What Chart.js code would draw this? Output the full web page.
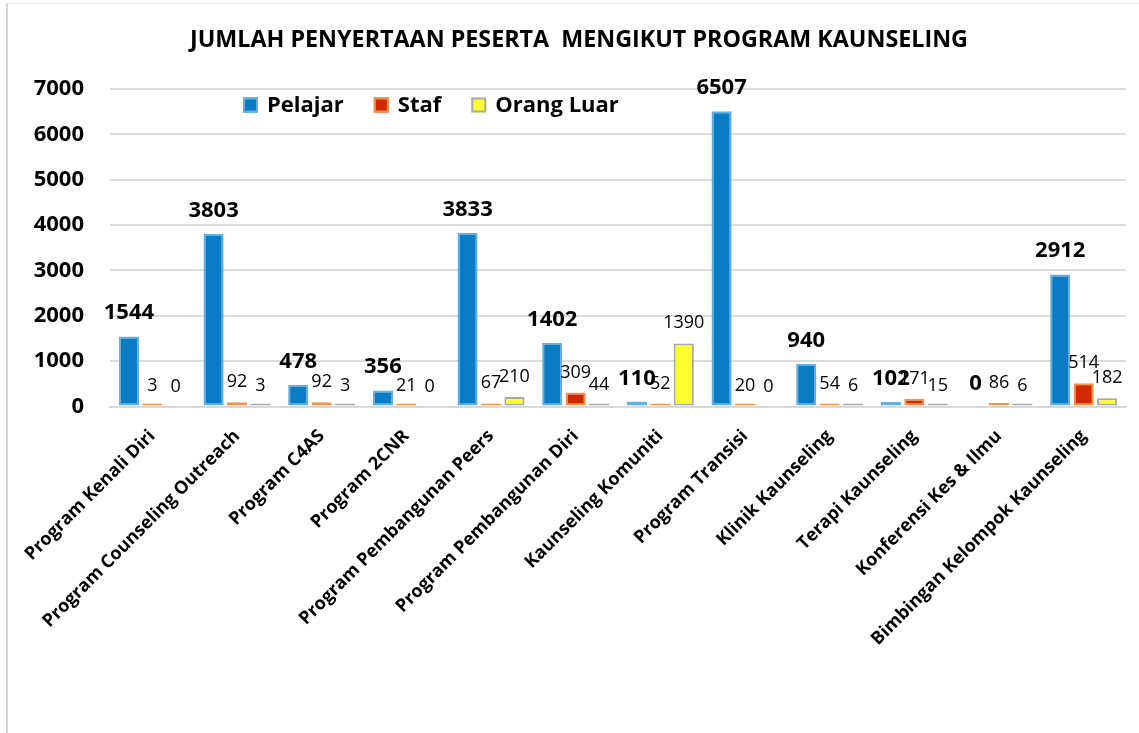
<!DOCTYPE html>
<html>
<head>
<meta charset="utf-8">
<script src="https://cdn.jsdelivr.net/npm/chart.js@4.4.1/dist/chart.umd.min.js"></script>
<style>
  html, body { margin: 0; padding: 0; background: #ffffff; }
  #wrap { position: relative; width: 1139px; height: 733px; }
  #frameL { position: absolute; left: 6px; top: 3px; width: 2px; height: 730px; background: #d4d4d4; }
  #frameT { position: absolute; left: 6px; top: 3px; width: 1133px; height: 1px; background: #e6e6e6; }
  canvas { position: absolute; left: 0; top: 0; }
</style>
</head>
<body>
<div id="wrap">
  <canvas id="c" width="1139" height="733"></canvas>
  <div id="frameL"></div>
  <div id="frameT"></div>
</div>
<script>
const categories = [
  "Program Kenali Diri",
  "Program Counseling Outreach",
  "Program C4AS",
  "Program 2CNR",
  "Program Pembangunan Peers",
  "Program Pembangunan Diri",
  "Kaunseling Komuniti",
  "Program Transisi",
  "Klinik Kaunseling",
  "Terapi Kaunseling",
  "Konferensi Kes & Ilmu",
  "Bimbingan Kelompok Kaunseling"
];
const pelajar    = [1544, 3803, 478, 356, 3833, 1402, 110, 6507, 940, 102, 0, 2912];
const staf       = [3, 92, 92, 21, 67, 309, 52, 20, 54, 171, 86, 514];
const orangLuar  = [0, 3, 3, 0, 210, 44, 1390, 0, 6, 15, 6, 182];
const seriesNames = ["Pelajar", "Staf", "Orang Luar"];
const yTicks = [0, 1000, 2000, 3000, 4000, 5000, 6000, 7000];
const chartTitle = "JUMLAH PENYERTAAN PESERTA  MENGIKUT PROGRAM KAUNSELING";

const FONT = "'Open Sans', 'DejaVu Sans', sans-serif";
const fills   = ['#0a7cc4', '#d22800', '#ffff30'];
const borders = ['#66aee2', '#f2944a', '#a9a9a9'];

function mk(i, data) {
  return {
    label: seriesNames[i],
    data: data,
    backgroundColor: ctx => (ctx.raw === 0 ? 'rgba(0,0,0,0)' : fills[i]),
    borderColor: ctx => (ctx.raw === 0 ? 'rgba(0,0,0,0)' : borders[i]),
    borderWidth: 2,
    borderSkipped: false,
    minBarLength: 3,
    categoryPercentage: 0.83,
    barPercentage: 0.86
  };
}

const labelPlugin = {
  id: 'valueLabels',
  afterDatasetsDraw(chart) {
    const ctx = chart.ctx;
    const ys = chart.scales.y;
    ctx.save();
    ctx.fillStyle = '#000';
    ctx.textAlign = 'center';
    ctx.textBaseline = 'alphabetic';
    chart.data.datasets.forEach((ds, di) => {
      const meta = chart.getDatasetMeta(di);
      meta.data.forEach((bar, i) => {
        const v = ds.data[i];
        const top = ys.getPixelForValue(v);
        if (di === 0) {
          ctx.font = 'bold 22px ' + FONT;
          ctx.fillText(String(v), bar.x, top - 17);
        } else {
          ctx.font = '18px ' + FONT;
          ctx.fillText(String(v), bar.x, top - 15);
        }
      });
    });
    ctx.restore();
  }
};

const legendPlugin = {
  id: 'innerLegend',
  afterDraw(chart) {
    const ctx = chart.ctx;
    const a = chart.chartArea;
    let x = a.left + 133;
    const yc = 105;
    ctx.save();
    ctx.font = 'bold 22px ' + FONT;
    ctx.textBaseline = 'middle';
    ctx.textAlign = 'left';
    seriesNames.forEach((name, i) => {
      ctx.fillStyle = fills[i];
      ctx.fillRect(x, yc - 7.5, 15, 15);
      ctx.strokeStyle = borders[i];
      ctx.lineWidth = 2;
      ctx.strokeRect(x + 1, yc - 6.5, 13, 13);
      ctx.fillStyle = '#000';
      ctx.fillText(name, x + 24, yc + 1);
      x = x + 24 + ctx.measureText(name).width + 30;
    });
    ctx.restore();
  }
};

new Chart(document.getElementById('c'), {
  type: 'bar',
  data: {
    labels: categories,
    datasets: [mk(0, pelajar), mk(1, staf), mk(2, orangLuar)]
  },
  options: {
    responsive: false,
    animation: false,
    layout: { padding: { top: 13, left: 32, right: 13, bottom: 64 } },
    plugins: {
      legend: { display: false },
      tooltip: { enabled: false },
      title: {
        display: true,
        text: chartTitle,
        color: '#000',
        font: { family: FONT, size: 23.3, weight: 'bold' },
        padding: { top: 13, bottom: 35 }
      }
    },
    scales: {
      x: {
        grid: { display: false, drawTicks: false },
        border: { display: true, color: '#d9d9d9', width: 2 },
        afterFit: s => { s.paddingLeft = 0; s.paddingRight = 0; },
        ticks: {
          autoSkip: false,
          minRotation: 45,
          maxRotation: 45,
          padding: 19,
          color: '#000',
          font: { family: FONT, size: 18, weight: 'bold' }
        }
      },
      y: {
        min: 0,
        max: 7000,
        afterBuildTicks: axis => { axis.ticks = yTicks.map(v => ({ value: v })); },
        afterFit: s => { s.width = 78; },
        grid: { color: '#dcdcdc', lineWidth: 2, drawTicks: false },
        border: { display: false },
        ticks: {
          padding: 26,
          color: '#000',
          font: { family: FONT, size: 22, weight: 'bold' },
          callback: v => String(v)
        }
      }
    }
  },
  plugins: [labelPlugin, legendPlugin]
});
</script>
</body>
</html>
